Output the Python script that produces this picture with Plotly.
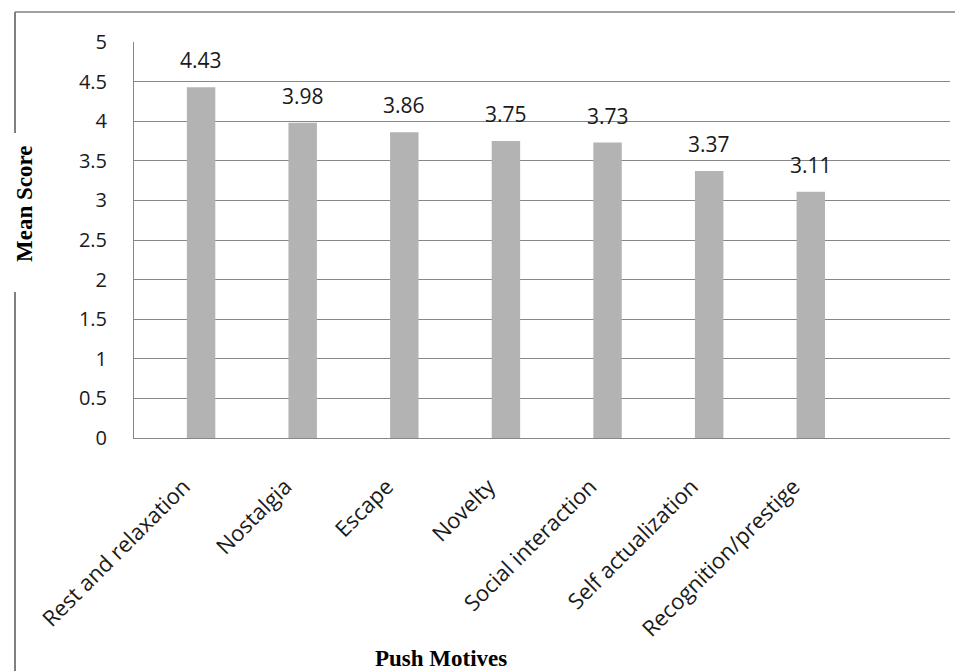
import plotly.graph_objects as go

categories = ["Rest and relaxation", "Nostalgia", "Escape", "Novelty",
              "Social interaction", "Self actualization", "Recognition/prestige"]
values = [4.43, 3.98, 3.86, 3.75, 3.73, 3.37, 3.11]
y_ticks = [0, 0.5, 1, 1.5, 2, 2.5, 3, 3.5, 4, 4.5, 5]
y_tick_labels = ["0", "0.5", "1", "1.5", "2", "2.5", "3", "3.5", "4", "4.5", "5"]

OFF = 8  # browser default body margin
W, H = 963 - OFF, 671 - OFF
L, T = 134 - OFF, 42 - OFF
R = W - (950 - OFF)
B = H - (438 - OFF)
pw, ph = W - L - R, H - T - B

def px(x):
    return (x - OFF - L) / pw

def py(y):
    return (H - B - (y - OFF)) / ph

tick_font = dict(family="Open Sans, Lato, sans-serif", size=20, color="#1a1a1a")
cat_font = dict(family="Open Sans, Lato, sans-serif", size=22, color="#1a1a1a")
label_font = dict(family="Open Sans, Lato, sans-serif", size=21, color="#1a1a1a")
title_font = dict(family="Liberation Serif, Times New Roman, serif", size=23, color="#000")

idx = list(range(len(categories)))
label_shift = 0.17  # rotated labels end slightly left of bar centres

fig = go.Figure()
fig.add_trace(go.Bar(
    x=idx, y=values,
    marker=dict(color="#b3b3b3", line=dict(width=0)),
    width=0.28, showlegend=False, hoverinfo="skip",
))

annotations = []
for i, v in enumerate(values):
    annotations.append(dict(x=i, y=v, xref="x", yref="y", text=f"{v:.2f}",
                            showarrow=False, yanchor="bottom", xanchor="center", yshift=11,
                            font=label_font))

annotations.append(dict(x=px(441), y=py(658), xref="paper", yref="paper",
                        xanchor="center", yanchor="middle",
                        text="<b>Push Motives</b>", showarrow=False, font=title_font))
annotations.append(dict(x=px(24), y=py(204), xref="paper", yref="paper",
                        xanchor="center", yanchor="middle", borderpad=0,
                        text="<b>Mean Score</b>", showarrow=False, textangle=-90,
                        font=title_font))

shapes = [
    dict(type="line", xref="paper", yref="paper", x0=px(15), x1=px(963), y0=py(12), y1=py(12),
         line=dict(color="#808080", width=1.5)),
    dict(type="line", xref="paper", yref="paper", x0=px(15), x1=px(15), y0=py(12), y1=py(133),
         line=dict(color="#808080", width=2)),
    dict(type="line", xref="paper", yref="paper", x0=px(15), x1=px(15), y0=py(292), y1=py(680),
         line=dict(color="#808080", width=2)),
]

fig.update_layout(
    width=W, height=H,
    margin=dict(l=L, r=R, t=T, b=B, pad=0),
    paper_bgcolor="white", plot_bgcolor="white",
    annotations=annotations, shapes=shapes,
    xaxis=dict(
        range=[-0.66, 7.37],
        tickmode="array", tickvals=[i - label_shift for i in idx], ticktext=categories,
        tickangle=-45, tickfont=cat_font,
        showgrid=False, zeroline=False,
        showline=True, linecolor="#868686", linewidth=1,
        ticks="", ticklabelstandoff=26,
    ),
    yaxis=dict(
        range=[0, 5],
        tickmode="array", tickvals=y_ticks, ticktext=y_tick_labels,
        tickfont=tick_font,
        showgrid=True, gridcolor="#868686", gridwidth=1,
        zeroline=False,
        showline=True, linecolor="#868686", linewidth=1,
        ticks="", ticklabelstandoff=22,
    ),
)

fig.write_html("out.html")
